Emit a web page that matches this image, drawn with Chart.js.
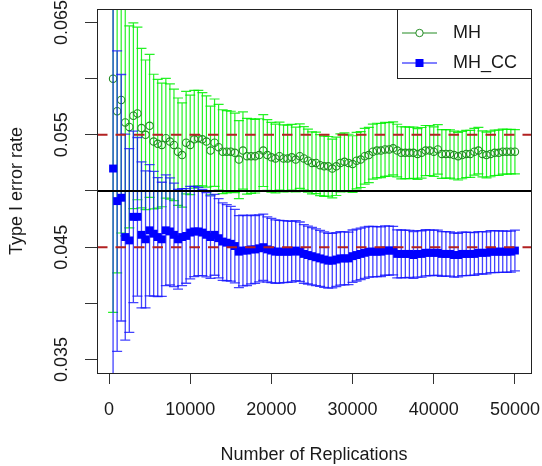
<!DOCTYPE html>
<html>
<head>
<meta charset="utf-8">
<script src="https://cdn.jsdelivr.net/npm/chart.js@4.4.1/dist/chart.umd.min.js"></script>
<style>
html,body{margin:0;padding:0;background:#fff;}
#wrap{width:542px;height:466px;}
</style>
</head>
<body>
<div id="wrap"><canvas id="errChart" width="542" height="466"></canvas></div>
<script>
// number of replications at each checkpoint
var replications = [500,1000,1500,2000,2500,3000,3500,4000,4500,5000,
  5500,6000,6500,7000,7500,8000,8500,9000,9500,10000,
  10500,11000,11500,12000,12500,13000,13500,14000,14500,15000,
  15500,16000,16500,17000,17500,18000,18500,19000,19500,20000,
  20500,21000,21500,22000,22500,23000,23500,24000,24500,25000,
  25500,26000,26500,27000,27500,28000,28500,29000,29500,30000,
  30500,31000,31500,32000,32500,33000,33500,34000,34500,35000,
  35500,36000,36500,37000,37500,38000,38500,39000,39500,40000,
  40500,41000,41500,42000,42500,43000,43500,44000,44500,45000,
  45500,46000,46500,47000,47500,48000,48500,49000,49500,50000];

var mhRate = [0.0600,0.0571,0.0581,0.0561,0.0557,0.0567,0.0569,0.0556,0.0550,0.0558,
  0.0544,0.0542,0.0541,0.0547,0.0544,0.0541,0.0535,0.0532,0.0543,0.0541,
  0.0546,0.0547,0.0546,0.0544,0.0536,0.0543,0.0539,0.0535,0.0535,0.0535,
  0.0534,0.0528,0.0536,0.0531,0.0531,0.0531,0.0532,0.0536,0.0532,0.0530,
  0.0529,0.0531,0.0529,0.0529,0.0530,0.0528,0.0531,0.0529,0.0527,0.0525,
  0.0525,0.0523,0.0522,0.0522,0.0520,0.0522,0.0525,0.0526,0.0525,0.0524,
  0.0527,0.0528,0.0531,0.0532,0.0535,0.0536,0.0536,0.0537,0.0537,0.0538,
  0.0536,0.0534,0.0534,0.0534,0.0534,0.0533,0.0534,0.0536,0.0536,0.0535,
  0.0537,0.0533,0.0533,0.0533,0.0532,0.0531,0.0532,0.0533,0.0533,0.0535,
  0.0536,0.0533,0.0532,0.0533,0.0534,0.0534,0.0535,0.0535,0.0535,0.0535];

// half width of the 95% interval
var mhHalf = [0.0208,0.01438,0.01184,0.01009,0.00899,0.00827,0.00768,0.00710,0.00666,0.00636,
  0.00599,0.00573,0.00550,0.00533,0.00513,0.00496,0.00478,0.00464,0.00456,0.00443,
  0.00435,0.00425,0.00415,0.00406,0.00395,0.00389,0.00381,0.00373,0.00366,0.00360,
  0.00354,0.00347,0.00344,0.00337,0.00332,0.00328,0.00323,0.00320,0.00315,0.00311,
  0.00306,0.00303,0.00299,0.00296,0.00293,0.00289,0.00287,0.00283,0.00280,0.00276,
  0.00274,0.00271,0.00268,0.00265,0.00262,0.00260,0.00259,0.00257,0.00255,0.00252,
  0.00251,0.00249,0.00248,0.00246,0.00245,0.00243,0.00241,0.00240,0.00238,0.00236,
  0.00234,0.00232,0.00230,0.00229,0.00228,0.00226,0.00225,0.00223,0.00222,0.00220,
  0.00220,0.00217,0.00216,0.00215,0.00213,0.00212,0.00211,0.00210,0.00209,0.00208,
  0.00207,0.00205,0.00204,0.00203,0.00202,0.00201,0.00200,0.00199,0.00198,0.00197];

var ccRate = [0.0520,0.0491,0.0494,0.0459,0.0456,0.0477,0.0477,0.0461,0.0457,0.0465,
  0.0462,0.0459,0.0457,0.0465,0.0464,0.0461,0.0457,0.0459,0.0460,0.0463,
  0.0464,0.0464,0.0463,0.0461,0.0459,0.0461,0.0458,0.0455,0.0454,0.0453,
  0.0451,0.0446,0.0447,0.0447,0.0448,0.0448,0.0449,0.0450,0.0448,0.0447,
  0.0446,0.0446,0.0446,0.0446,0.0446,0.0447,0.0446,0.0444,0.0443,0.0442,
  0.0441,0.0440,0.0439,0.0438,0.0438,0.0439,0.0440,0.0440,0.0440,0.0442,
  0.0443,0.0444,0.0445,0.0446,0.0446,0.0446,0.0446,0.0447,0.0447,0.0447,
  0.0444,0.0444,0.0444,0.0444,0.0443,0.0444,0.0444,0.0445,0.0445,0.0445,
  0.0445,0.0444,0.0444,0.0444,0.0443,0.0443,0.0444,0.0444,0.0444,0.0444,
  0.0445,0.0445,0.0445,0.0446,0.0446,0.0446,0.0446,0.0446,0.0446,0.0447];

var ccHalf = [0.01946,0.01338,0.01097,0.00917,0.00818,0.00763,0.00706,0.00650,0.00610,0.00584,
  0.00555,0.00529,0.00508,0.00493,0.00476,0.00460,0.00444,0.00432,0.00421,0.00412,
  0.00402,0.00393,0.00384,0.00375,0.00367,0.00360,0.00353,0.00345,0.00339,0.00333,
  0.00327,0.00320,0.00315,0.00311,0.00306,0.00302,0.00298,0.00295,0.00290,0.00286,
  0.00283,0.00279,0.00276,0.00273,0.00270,0.00267,0.00264,0.00261,0.00258,0.00255,
  0.00252,0.00249,0.00247,0.00244,0.00242,0.00240,0.00238,0.00236,0.00234,0.00233,
  0.00231,0.00229,0.00228,0.00226,0.00224,0.00223,0.00221,0.00220,0.00218,0.00216,
  0.00214,0.00213,0.00211,0.00210,0.00208,0.00207,0.00206,0.00205,0.00203,0.00202,
  0.00201,0.00199,0.00198,0.00197,0.00196,0.00194,0.00194,0.00193,0.00191,0.00190,
  0.00189,0.00189,0.00187,0.00187,0.00186,0.00185,0.00184,0.00183,0.00182,0.00181];

var nominalLevel = [0.05];
var boundLines = [0.045, 0.055];
var xTickVals = [0, 10000, 20000, 30000, 40000, 50000];
var yTickVals = [0.035, 0.040, 0.045, 0.050, 0.055, 0.060, 0.065];
var yTickLabels = ['0.035', '0.045', '0.055', '0.065'];

var FONT = "'Liberation Sans', Arial, sans-serif";
var barStyle = {
  'MH': {half: mhHalf, color: 'rgba(0,240,0,0.85)', width: 1.2},
  'MH_CC': {half: ccHalf, color: 'rgba(20,20,255,0.8)', width: 1.3}
};

// intervals drawn just before each series' own markers
const errorBars = {
  id: 'errorBars',
  beforeDatasetDraw: (chart, args) => {
    const ds = chart.data.datasets[args.index];
    const st = barStyle[ds.label];
    const {ctx, chartArea: a} = chart;
    const xs = chart.scales.x, ys = chart.scales.y;
    ctx.save();
    ctx.beginPath();
    ctx.rect(a.left, a.top, a.right - a.left, a.bottom - a.top);
    ctx.clip();
    ctx.strokeStyle = st.color;
    ctx.lineWidth = st.width;
    ds.data.forEach((p, i) => {
      const px = xs.getPixelForValue(p.x);
      const top = ys.getPixelForValue(p.y + st.half[i]);
      const bot = ys.getPixelForValue(p.y - st.half[i]);
      ctx.beginPath();
      ctx.moveTo(px, top); ctx.lineTo(px, bot);
      ctx.moveTo(px - 5, top); ctx.lineTo(px + 5, top);
      ctx.moveTo(px - 5, bot); ctx.lineTo(px + 5, bot);
      ctx.stroke();
    });
    ctx.restore();
  }
};

const refLines = {
  id: 'refLines',
  afterDatasetsDraw: (chart) => {
    const {ctx, chartArea: a} = chart;
    const ys = chart.scales.y;
    ctx.save();
    ctx.lineWidth = 2;
    ctx.strokeStyle = '#B22222';
    ctx.setLineDash([10.5, 8]);
    boundLines.forEach(v => {
      const py = ys.getPixelForValue(v);
      ctx.beginPath(); ctx.moveTo(a.left, py); ctx.lineTo(a.right, py); ctx.stroke();
    });
    ctx.setLineDash([]);
    ctx.strokeStyle = '#000';
    nominalLevel.forEach(v => {
      const py = ys.getPixelForValue(v);
      ctx.beginPath(); ctx.moveTo(a.left, py); ctx.lineTo(a.right, py); ctx.stroke();
    });
    // plot box
    ctx.lineWidth = 1;
    ctx.strokeStyle = '#222';
    ctx.strokeRect(Math.floor(a.left) + 0.5, Math.floor(a.top) + 0.5,
      Math.round(a.right - a.left), Math.round(a.bottom - a.top));
    ctx.restore();
  }
};

const sideText = {
  id: 'sideText',
  afterDraw: (chart) => {
    const {ctx, chartArea: a} = chart;
    const ys = chart.scales.y;
    ctx.save();
    // rotated y tick labels, R style
    ctx.fillStyle = '#1a1a1a';
    ctx.font = '18px ' + FONT;
    ctx.textAlign = 'center';
    ctx.textBaseline = 'middle';
    yTickLabels.forEach(t => {
      ctx.save();
      ctx.translate(62, ys.getPixelForValue(parseFloat(t)));
      ctx.rotate(-Math.PI / 2);
      ctx.fillText(t, 0, 0);
      ctx.restore();
    });

    // legend, top right corner of the plot
    const w = 134, h = 69;
    const lx = Math.floor(a.right) - w, ly = Math.floor(a.top);
    ctx.fillStyle = '#fff';
    ctx.fillRect(lx, ly, w, h);
    ctx.strokeStyle = '#222';
    ctx.lineWidth = 1;
    ctx.strokeRect(lx + 0.5, ly + 0.5, w, h);
    const rows = [
      {label: 'MH', color: '#228B22', y: ly + 24},
      {label: 'MH_CC', color: '#0000FF', y: ly + 54}
    ];
    rows.forEach((r, k) => {
      ctx.strokeStyle = r.color;
      ctx.lineWidth = 1;
      ctx.beginPath(); ctx.moveTo(lx + 5, r.y); ctx.lineTo(lx + 40, r.y); ctx.stroke();
      if (k === 0) {
        ctx.fillStyle = '#fff';
        ctx.beginPath(); ctx.arc(lx + 22.5, r.y, 3.7, 0, Math.PI * 2); ctx.fill(); ctx.stroke();
      } else {
        ctx.fillStyle = r.color;
        ctx.fillRect(lx + 18.5, r.y - 4, 8, 8);
      }
      ctx.fillStyle = '#1a1a1a';
      ctx.textAlign = 'left';
      ctx.fillText(r.label, lx + 56, r.y);
    });
    ctx.restore();
  }
};

new Chart(document.getElementById('errChart'), {
  type: 'scatter',
  data: {
    datasets: [{
      label: 'MH',
      order: 2,
      data: replications.map((r, i) => ({x: r, y: mhRate[i]})),
      pointStyle: 'circle',
      pointRadius: 3.7,
      pointBorderWidth: 1.1,
      pointBorderColor: '#228B22',
      pointBackgroundColor: 'rgba(0,0,0,0)',
      showLine: false
    }, {
      label: 'MH_CC',
      order: 1,
      data: replications.map((r, i) => ({x: r, y: ccRate[i]})),
      pointStyle: 'rect',
      pointRadius: 5.6,
      pointBorderWidth: 0,
      pointBackgroundColor: '#0000FF',
      showLine: false
    }]
  },
  options: {
    responsive: false,
    animation: false,
    devicePixelRatio: 1,
    layout: {padding: {left: 0, right: 11, top: 9, bottom: 0}},
    plugins: {legend: {display: false}, tooltip: {enabled: false}},
    scales: {
      x: {
        type: 'linear', min: -1480, max: 51980,
        afterBuildTicks: s => { s.ticks = xTickVals.map(v => ({value: v})); },
        afterFit: s => { s.height = 93; s.paddingLeft = 0; s.paddingRight = 0; },
        grid: {drawOnChartArea: false, drawTicks: true, tickLength: 11, color: '#333'},
        border: {display: false},
        ticks: {font: {family: FONT, size: 18}, color: '#1a1a1a', padding: 15, maxRotation: 0, autoSkip: false,
          callback: v => String(v)},
        title: {display: true, text: 'Number of Replications', font: {family: FONT, size: 18}, color: '#1a1a1a',
          padding: {top: 0, bottom: 0}}
      },
      y: {
        type: 'linear', min: 0.0338, max: 0.0662,
        afterBuildTicks: s => { s.ticks = yTickVals.map(v => ({value: v})); },
        afterFit: s => { s.width = 97; s.paddingTop = 0; s.paddingBottom = 0; },
        grid: {drawOnChartArea: false, drawTicks: true, tickLength: 12, color: '#333'},
        border: {display: false},
        ticks: {display: false},
        title: {display: true, text: 'Type I error rate', font: {family: FONT, size: 18}, color: '#1a1a1a',
          padding: {top: 6, bottom: 0}}
      }
    }
  },
  plugins: [errorBars, refLines, sideText]
});
</script>
</body>
</html>
